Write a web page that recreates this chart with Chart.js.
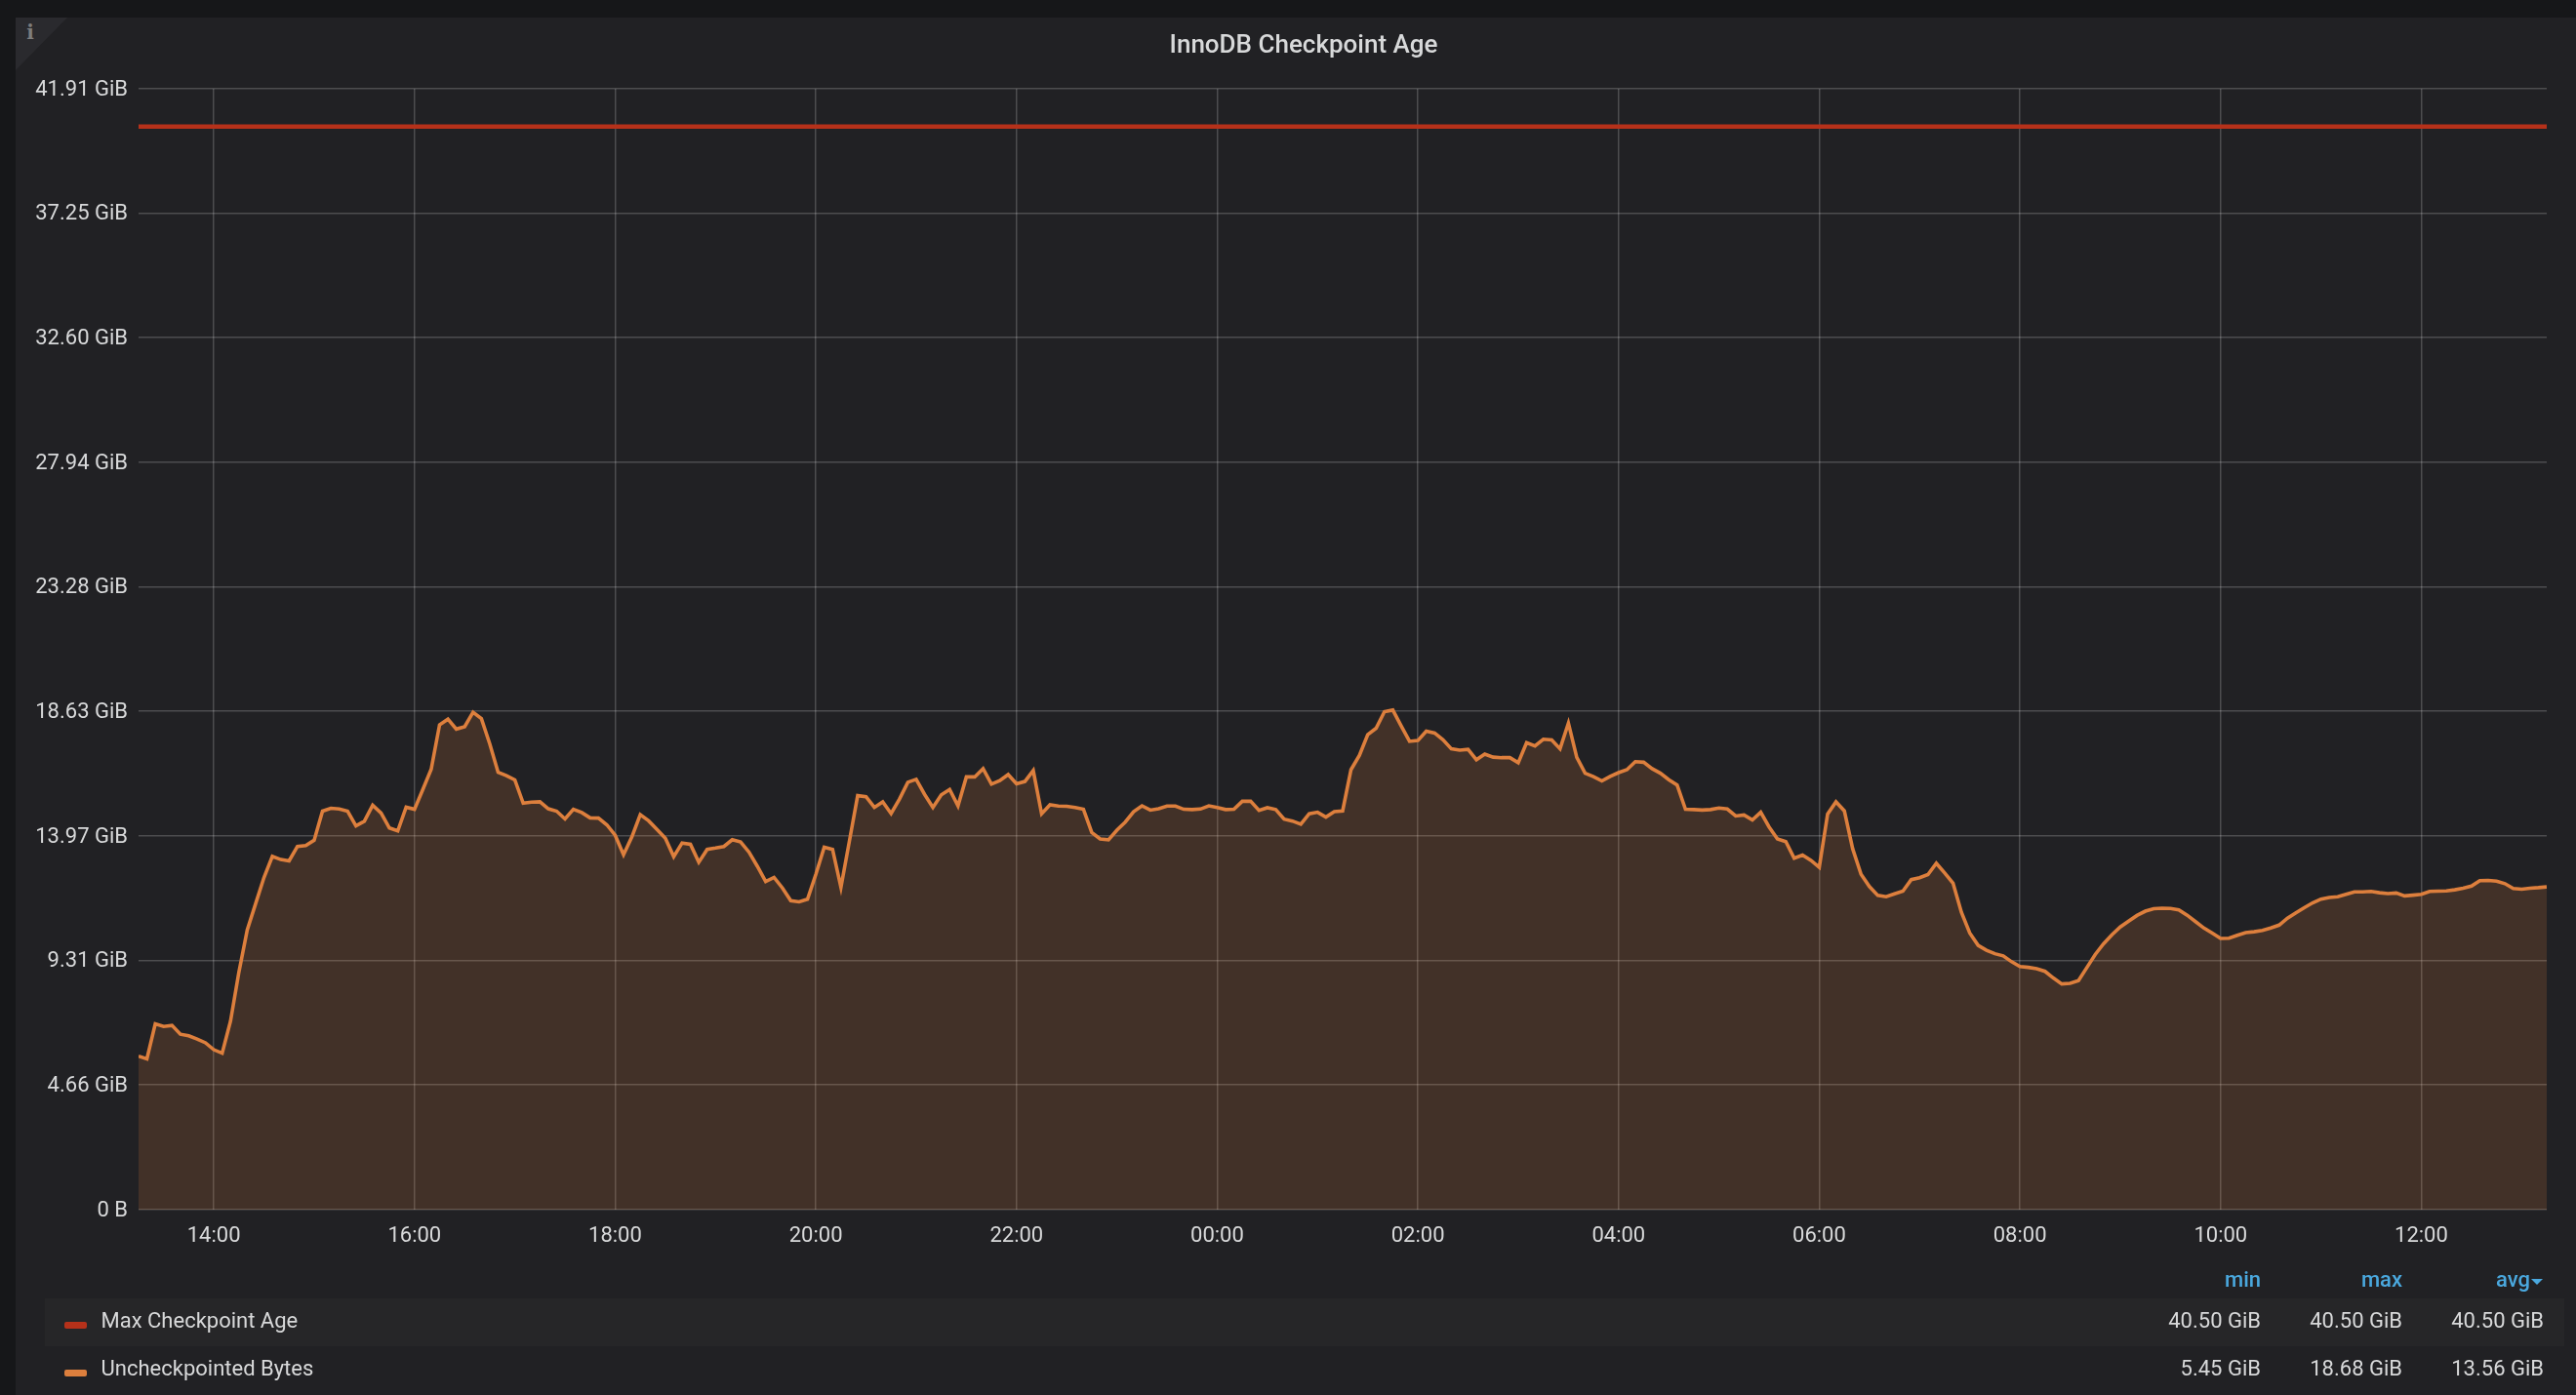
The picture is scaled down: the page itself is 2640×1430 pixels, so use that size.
<!DOCTYPE html>
<html>
<head>
<meta charset="utf-8">
<title>InnoDB Checkpoint Age</title>
<script src="https://cdn.jsdelivr.net/npm/chart.js@4"></script>
<style>
    html, body { margin: 0; padding: 0; width: 2640px; height: 1430px; overflow: hidden; background: #161719; }
    body { font-family: Roboto, sans-serif; position: relative; }
    #panel { position: absolute; left: 16px; top: 18px; right: 0; bottom: 0; background: #212124; }
    #corner { position: absolute; left: 16px; top: 18px; width: 53px; height: 54px; background: #2a2a2e; clip-path: polygon(0 0, 100% 0, 0 100%); }
    #info { position: absolute; left: 25px; top: 21px; width: 12px; text-align: center; font: bold 20px 'DejaVu Serif', serif; color: #7d7d7d; }
    #title { position: absolute; left: 16px; width: 2640px; top: 31px; text-align: center; font-size: 26px; line-height: 28px; font-weight: 500; color: #d8d9da; }
    canvas { position: absolute; left: 0; top: 0; }
    .band { position: absolute; left: 46px; width: 2582px; top: 1331px; height: 49px; background: #262628; }
    .swatch { position: absolute; left: 66px; width: 23px; height: 7px; border-radius: 2px; }
    .name { position: absolute; left: 103.5px; font-size: 22px; line-height: 26px; color: #d8d9da; white-space: nowrap; }
    .val { position: absolute; width: 140px; text-align: right; font-size: 22px; line-height: 26px; color: #d8d9da; }
    .head { position: absolute; width: 100px; text-align: right; font-size: 22px; line-height: 26px; font-weight: 500; color: #4aa8de; }
    .caret { position: absolute; left: 2594px; top: 1311px; width: 0; height: 0; border-left: 6px solid transparent; border-right: 6px solid transparent; border-top: 6px solid #4aa8de; }
</style>
</head>
<body>
<div id="panel"></div>
<div id="corner"></div>
<div id="info">i</div>
<div class="band"></div>
<canvas id="checkpointChart" width="2640" height="1430"></canvas>
<div id="title">InnoDB Checkpoint Age</div>
<div id="legend"></div>

<script>
// minutes since midnight of the first day, samples every 5 minutes
const startMinute = 795;
const endMinute = 2235;
const sampleStep = 5;

const xTickMinutes = [840, 960, 1080, 1200, 1320, 1440, 1560, 1680, 1800, 1920, 2040, 2160];
const xTickLabels = ['14:00', '16:00', '18:00', '20:00', '22:00', '00:00', '02:00', '04:00', '06:00', '08:00', '10:00', '12:00'];

const yTickValues = [0, 4.66, 9.31, 13.97, 18.63, 23.28, 27.94, 32.60, 37.25, 41.91];
const yTickLabels = ['0 B', '4.66 GiB', '9.31 GiB', '13.97 GiB', '18.63 GiB', '23.28 GiB', '27.94 GiB', '32.60 GiB', '37.25 GiB', '41.91 GiB'];

const maxAgeMinutes = [795, 2235];
const maxAgeValues = [40.5, 40.5];

const uncheckpointedBytes = [
    5.74, 5.64, 6.95, 6.85, 6.89, 6.56, 6.50, 6.38, 6.24, 5.98, 5.85, 7.05, 8.88, 10.46, 11.44, 12.42,
    13.21, 13.09, 13.04, 13.58, 13.61, 13.81, 14.90, 15.01, 14.98, 14.90, 14.35, 14.52, 15.12, 14.83, 14.27, 14.16,
    15.05, 14.97, 15.71, 16.47, 18.13, 18.34, 17.97, 18.06, 18.60, 18.36, 17.42, 16.35, 16.23, 16.07, 15.20, 15.24,
    15.25, 14.99, 14.90, 14.61, 14.97, 14.85, 14.65, 14.64, 14.39, 14.00, 13.27, 13.94, 14.77, 14.54, 14.22, 13.89,
    13.20, 13.71, 13.66, 12.99, 13.47, 13.52, 13.58, 13.83, 13.75, 13.37, 12.84, 12.27, 12.42, 12.03, 11.55, 11.51,
    11.61, 12.54, 13.55,
    13.47, 12.05, 13.76, 15.48, 15.44, 15.04, 15.25, 14.81, 15.35, 15.98, 16.09, 15.53, 15.04, 15.51, 15.71, 15.10,
    16.18, 16.18, 16.49, 15.91, 16.04, 16.27, 15.92, 16.01, 16.42, 14.80, 15.14, 15.09, 15.08, 15.04, 14.97, 14.10,
    13.86, 13.83, 14.19, 14.49, 14.88, 15.10, 14.94, 14.99, 15.09, 15.09, 14.97, 14.96, 14.98, 15.10, 15.04, 14.96,
    14.97, 15.27, 15.27, 14.93, 15.03, 14.96, 14.60, 14.53, 14.41, 14.80, 14.86, 14.68, 14.88, 14.91, 16.45, 16.98,
    17.76, 18.00, 18.62, 18.68, 18.09, 17.51, 17.54, 17.89, 17.82, 17.57, 17.23, 17.18, 17.21, 16.82, 17.03, 16.92,
    16.90, 16.90, 16.71,
    17.46, 17.34, 17.59, 17.56, 17.23, 18.19, 16.91, 16.32, 16.19, 16.03, 16.20, 16.34, 16.45, 16.75, 16.73, 16.49,
    16.32, 16.08, 15.88, 14.97, 14.96, 14.94, 14.96, 15.02, 14.98, 14.72, 14.76, 14.57, 14.86, 14.31, 13.86, 13.76,
    13.14, 13.26, 13.06, 12.80, 14.79, 15.25, 14.91, 13.49, 12.54, 12.08, 11.75, 11.70, 11.81, 11.91, 12.34, 12.41,
    12.53, 12.95, 12.59, 12.21, 11.12, 10.34, 9.88, 9.70, 9.57, 9.49, 9.27, 9.09, 9.06, 9.01, 8.91, 8.66,
    8.44, 8.46, 8.56, 9.05, 9.54, 9.94, 10.28, 10.57, 10.79, 11.00, 11.16, 11.25, 11.27, 11.26, 11.21, 11.01,
    10.77, 10.53, 10.34,
    10.14, 10.15, 10.26, 10.36, 10.39, 10.44, 10.53, 10.64, 10.90, 11.10, 11.29, 11.47, 11.61, 11.67, 11.70, 11.79,
    11.88, 11.88, 11.90, 11.85, 11.82, 11.84, 11.73, 11.76, 11.79, 11.90, 11.91, 11.92, 11.96, 12.02, 12.10, 12.30,
    12.31, 12.28, 12.19, 12.01, 11.98, 12.02, 12.04, 12.07
];

const seriesNames = ['Max Checkpoint Age', 'Uncheckpointed Bytes'];
const seriesColors = ['#b5311a', '#dd7f3d'];
const statHeaders = ['min', 'max', 'avg'];
const statMin = ['40.50 GiB', '5.45 GiB'];
const statMax = ['40.50 GiB', '18.68 GiB'];
const statAvg = ['40.50 GiB', '13.56 GiB'];

const gridColor = 'rgba(255, 255, 255, 0.2)';
const tickFont = { family: 'Roboto', size: 22 };

new Chart(document.getElementById('checkpointChart'), {
    type: 'line',
    data: {
        datasets: [{
            label: seriesNames[0],
            data: maxAgeMinutes.map((m, i) => ({ x: m, y: maxAgeValues[i] })),
            borderColor: seriesColors[0],
            borderWidth: 4.5,
            pointRadius: 0,
            fill: false
        }, {
            label: seriesNames[1],
            data: uncheckpointedBytes.map((v, i) => ({ x: startMinute + i * sampleStep, y: v })),
            borderColor: seriesColors[1],
            borderWidth: 3.6,
            pointRadius: 0,
            tension: 0,
            fill: 'origin',
            backgroundColor: 'rgba(239, 132, 60, 0.165)'
        }]
    },
    options: {
        responsive: false,
        animation: false,
        devicePixelRatio: 1,
        layout: { padding: { top: 91, right: 30, left: 0, bottom: 0 } },
        plugins: {
            legend: { display: false },
            title: { display: false },
            tooltip: { enabled: false }
        },
        scales: {
            x: {
                type: 'linear',
                min: startMinute,
                max: endMinute,
                afterBuildTicks: scale => { scale.ticks = xTickMinutes.map(v => ({ value: v })); },
                afterFit: scale => { scale.height = 190; },
                grid: { color: gridColor, lineWidth: 1.5, drawTicks: false },
                border: { display: false },
                ticks: {
                    autoSkip: false,
                    maxRotation: 0,
                    padding: 14,
                    color: '#d8d9da',
                    font: tickFont,
                    callback: v => xTickLabels[xTickMinutes.indexOf(v)]
                }
            },
            y: {
                min: 0,
                max: 41.91,
                afterBuildTicks: scale => { scale.ticks = yTickValues.map(v => ({ value: v })); },
                afterFit: scale => { scale.width = 142; },
                grid: { color: gridColor, lineWidth: 1.5, drawTicks: false },
                border: { display: false },
                ticks: {
                    padding: 11,
                    labelOffset: 1,
                    color: '#d8d9da',
                    font: tickFont,
                    callback: v => yTickLabels[yTickValues.indexOf(v)]
                }
            }
        }
    }
});

// legend table, Grafana style: min / max / avg columns on the right
const legend = document.getElementById('legend');
const statRight = [2317, 2462, 2607];
const rowTop = [1341, 1390];

function addDiv(cls, text, css) {
    const d = document.createElement('div');
    d.className = cls;
    d.textContent = text;
    Object.assign(d.style, css);
    legend.appendChild(d);
}

statHeaders.forEach((h, i) => {
    const right = i === 2 ? statRight[i] - 14 : statRight[i];
    addDiv('head', h, { left: (right - 100) + 'px', top: '1299px' });
});
addDiv('caret', '', {});

seriesNames.forEach((name, r) => {
    addDiv('swatch', '', { top: (rowTop[r] + 14) + 'px', background: seriesColors[r] });
    addDiv('name', name, { top: rowTop[r] + 'px' });
    [statMin, statMax, statAvg].forEach((col, c) => {
        addDiv('val', col[r], { left: (statRight[c] - 140) + 'px', top: rowTop[r] + 'px' });
    });
});
</script>
</body>
</html>
